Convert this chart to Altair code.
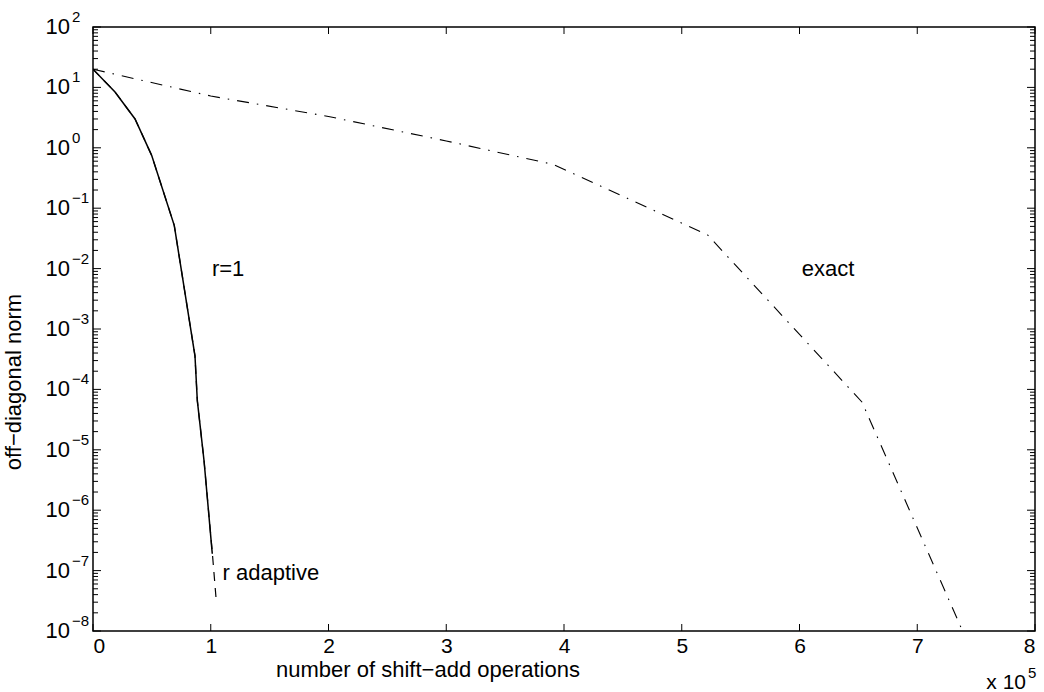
import altair as alt
import pandas as pd

# ---- data ----
ops_r1 = [0, 18700, 35700, 49800, 69000, 86600, 88600, 94300, 101300]
norm_r1 = [20, 8.4, 3.0, 0.75, 0.052, 3.6e-4, 6.5e-5, 6.6e-6, 1.9e-7]

ops_adapt = [0, 18700, 35700, 49800, 69000, 86600, 88600, 94300, 101500, 104500]
norm_adapt = [20, 8.4, 3.0, 0.75, 0.052, 3.6e-4, 6.5e-5, 6.6e-6, 1.8e-7, 3.5e-8]

ops_exact = [0, 100000, 200000, 300000, 391000, 522000, 653000, 738000]
norm_exact = [20, 7.2, 3.3, 1.3, 0.53, 0.036, 6.2e-5, 1.05e-8]

ann_text = ["r=1", "exact", "r adaptive"]
ann_x = [101000, 602000, 110000]
ann_y = [1e-2, 1e-2, 9e-8]

x_tick_values = [0, 100000, 200000, 300000, 400000, 500000, 600000, 700000, 800000]
y_exponents = [2, 1, 0, -1, -2, -3, -4, -5, -6, -7, -8]

W, H = 942, 604
FONT = "Liberation Sans"
FS = 21
FS_EXP = 15

xs = alt.Scale(domain=[0, 800000], nice=False, zero=False)
ys = alt.Scale(type="log", domain=[1e-8, 1e2], nice=False)

xaxis = alt.Axis(values=x_tick_values, labelExpr="datum.value / 100000",
                 ticks=False, domain=False, grid=False, title=None,
                 labelFontSize=FS, labelFont=FONT, labelColor="black",
                 labelPadding=4)

def X(field):
    return alt.X(f"{field}:Q", scale=xs, axis=xaxis)

def Y(field):
    return alt.Y(f"{field}:Q", scale=ys, axis=None)

df_r1 = pd.DataFrame({"ops": ops_r1, "norm": norm_r1})
df_ad = pd.DataFrame({"ops": ops_adapt, "norm": norm_adapt})
df_ex = pd.DataFrame({"ops": ops_exact, "norm": norm_exact})

line_ad = alt.Chart(df_ad).mark_line(color="black", strokeWidth=1.2,
                                     strokeDash=[9, 7], clip=True).encode(
    x=X("ops"), y=Y("norm"), order="ops:Q")
line_r1 = alt.Chart(df_r1).mark_line(color="black", strokeWidth=1.5, clip=True).encode(
    x=X("ops"), y=Y("norm"), order="ops:Q")
line_ex = alt.Chart(df_ex).mark_line(color="black", strokeWidth=1.1,
                                     strokeDash=[12, 8, 1.5, 8], clip=True).encode(
    x=X("ops"), y=Y("norm"), order="ops:Q")

df_ann = pd.DataFrame({"t": ann_text, "x": ann_x, "y": ann_y})
ann = alt.Chart(df_ann).mark_text(align="left", baseline="middle", fontSize=FS + 1,
                                  font=FONT, color="black").encode(
    x=X("x"), y=Y("y"), text="t:N")

# ---- tick marks (inside, MATLAB style) ----
df_xt = pd.DataFrame({"v": x_tick_values})
xt_bot = alt.Chart(df_xt).mark_rule(color="black", strokeWidth=1).encode(
    x=X("v"), y=alt.value(H), y2=alt.value(H - 7))
xt_top = alt.Chart(df_xt).mark_rule(color="black", strokeWidth=1).encode(
    x=X("v"), y=alt.value(0), y2=alt.value(7))

df_yt = pd.DataFrame({"v": [10.0 ** e for e in y_exponents]})
minor_vals = [m * 10.0 ** k for k in range(-8, 2) for m in range(2, 10)]
df_ym = pd.DataFrame({"v": minor_vals})

yt_left = alt.Chart(df_yt).mark_rule(color="black", strokeWidth=1).encode(
    y=Y("v"), x=alt.value(0), x2=alt.value(8))
yt_right = alt.Chart(df_yt).mark_rule(color="black", strokeWidth=1).encode(
    y=Y("v"), x=alt.value(W), x2=alt.value(W - 8))
ym_left = alt.Chart(df_ym).mark_rule(color="black", strokeWidth=1).encode(
    y=Y("v"), x=alt.value(0), x2=alt.value(5))
ym_right = alt.Chart(df_ym).mark_rule(color="black", strokeWidth=1).encode(
    y=Y("v"), x=alt.value(W), x2=alt.value(W - 5))

# ---- y tick labels 10^k ----
df_yl = pd.DataFrame({
    "v": [10.0 ** e for e in y_exponents],
    "base": ["10"] * len(y_exponents),
    "exp": [str(e).replace("-", "\u2212") for e in y_exponents],
})
yl_base = alt.Chart(df_yl).mark_text(align="right", baseline="middle", fontSize=FS + 1,
                                     font=FONT, color="black").encode(
    y=Y("v"), x=alt.value(-23), text="base:N")
yl_exp = alt.Chart(df_yl).mark_text(align="left", baseline="middle", fontSize=FS_EXP,
                                    font=FONT, color="black", dy=-10).encode(
    y=Y("v"), x=alt.value(-21), text="exp:N")

# ---- titles ----
xtitle = alt.Chart(pd.DataFrame({"t": ["number of shift\u2212add operations"]})).mark_text(
    align="center", baseline="middle", fontSize=FS + 1, font=FONT, color="black").encode(
    x=alt.value(335), y=alt.value(H + 39), text="t:N")
ytitle = alt.Chart(pd.DataFrame({"t": ["off\u2212diagonal norm"]})).mark_text(
    align="center", baseline="middle", fontSize=FS + 1, font=FONT, color="black",
    angle=270).encode(x=alt.value(-79), y=alt.value(355), text="t:N")
xmult = alt.Chart(pd.DataFrame({"t": ["x 10"]})).mark_text(
    align="right", baseline="middle", fontSize=FS, font=FONT, color="black").encode(
    x=alt.value(933), y=alt.value(H + 52), text="t:N")
xmult_exp = alt.Chart(pd.DataFrame({"t": ["5"]})).mark_text(
    align="left", baseline="middle", fontSize=FS_EXP, font=FONT, color="black").encode(
    x=alt.value(935), y=alt.value(H + 42), text="t:N")

chart = alt.layer(
    line_ad, line_r1, line_ex, ann,
    xt_bot, xt_top, yt_left, yt_right, ym_left, ym_right,
    yl_base, yl_exp, xtitle, ytitle, xmult, xmult_exp,
).properties(
    width=W, height=H,
    autosize=alt.AutoSizeParams(type="none"),
    padding={"left": 93, "top": 27, "right": 9, "bottom": 61},
    background="white",
).configure_view(stroke="black", strokeWidth=1.5)

chart.save("out.html", embed_options={"renderer": "svg", "actions": False})
